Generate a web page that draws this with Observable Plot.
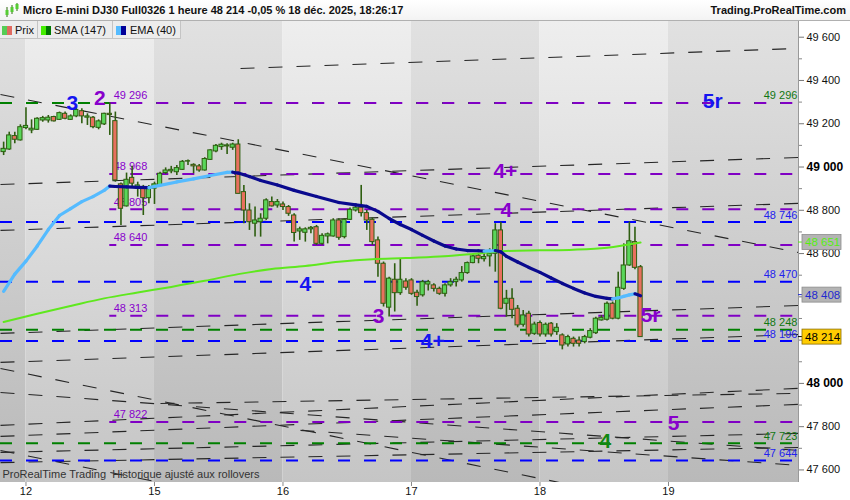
<!DOCTYPE html>
<html><head><meta charset="utf-8">
<script src="https://cdn.jsdelivr.net/npm/d3@7"></script>
<script src="https://cdn.jsdelivr.net/npm/@observablehq/plot@0.6"></script>
<style>
body{margin:0;background:#fff;font-family:"Liberation Sans",Arial,sans-serif;}
#wrap{position:relative;width:850px;height:500px;overflow:hidden;}
#hdr{height:21px;background:linear-gradient(#ffffff,#f3f3f3);border-bottom:1px solid #b0b0b0;box-sizing:border-box;position:relative;font-size:11px;font-weight:bold;color:#111;}
#hdr .t{position:absolute;left:23px;top:4px;white-space:nowrap;}
#hdr .r{position:absolute;right:4px;top:4px;white-space:nowrap;}
#hdr svg{position:absolute;left:4px;top:3px;}
#leg{position:absolute;top:21px;left:0;height:18px;font-size:11px;color:#111;}
#leg .b{position:absolute;top:0;height:18px;box-sizing:border-box;background:#ececec;border-right:1px solid #c4c4c4;border-bottom:1px solid #c4c4c4;}
#leg .sw{position:absolute;top:5px;width:5px;height:9px;}
#leg .tx{position:absolute;top:3px;white-space:nowrap;}
</style>
</head><body>
<div id="wrap">
<div id="hdr">
<svg width="15" height="15" viewBox="0 0 15 15"><line x1="3" y1="4" x2="3" y2="14" stroke="#2a6a0a"/><rect x="1.5" y="7" width="3" height="5" fill="#55cc33"/><line x1="8" y1="2" x2="8" y2="11" stroke="#2a6a0a"/><rect x="6.5" y="4" width="3" height="5" fill="#55cc33"/><line x1="13" y1="0" x2="13" y2="8" stroke="#2a6a0a"/><rect x="11.5" y="1" width="3" height="5" fill="#55cc33"/></svg>
<span class="t">Micro E-mini DJ30 Full0326 1 heure 48 214 -0,05 % 18 déc. 2025, 18:26:17</span>
<span class="r">Trading.ProRealTime.com</span>
</div>
<div id="chart"></div>
<div id="leg">
 <div class="b" style="left:0;width:38px"><div class="sw" style="left:2px;background:#55cc55"></div><div class="sw" style="left:7px;background:#e06a60"></div><div class="tx" style="left:15px">Prix</div></div>
 <div class="b" style="left:38px;width:75px"><div class="sw" style="left:3px;background:#44ee00"></div><div class="sw" style="left:8px;background:#007700"></div><div class="tx" style="left:16px">SMA (147)</div></div>
 <div class="b" style="left:113px;width:68px"><div class="sw" style="left:3px;background:#55bbff"></div><div class="sw" style="left:8px;background:#000099"></div><div class="tx" style="left:17px">EMA (40)</div></div>
</div>
</div>
<script>
// ---------- data ----------
const barStart = -4; // bar index of first candle (day ticks at multiples of 23 bars)
const opens = [49069,49081,49143,49123,49180,49169,49172,49215,49215,49231,49218,49246,49218,49234,49258,49228,49228,49181,49197,49246,
49212,48920,48818,48950,48900,48903,48856,48900,48915,48972,48980,48976,48987,49025,49010,49003,48984,49033,49072,49092,
49095,49089,49104,48884,48799,48738,48745,48761,48838,48822,48827,48815,48776,48702,48696,48712,48722,48645,48679,48679,
48753,48676,48756,48799,48812,48787,48756,48661,48553,48350,48479,48417,48471,48476,48419,48407,48457,48453,48437,48414,
48453,48468,48476,48510,48556,48590,48574,48587,48599,48707,48368,48391,48345,48271,48322,48229,48279,48226,48276,48237,
48222,48180,48206,48198,48191,48211,48232,48291,48294,48368,48299,48437,48545,48653,48537];
const highs = [49115,49161,49161,49195,49274,49218,49228,49234,49238,49235,49254,49254,49241,49269,49269,49246,49234,49218,49249,49296,
49254,48926,48972,49003,48930,48915,48915,48930,48976,48996,49003,49007,49030,49033,49015,49012,49043,49080,49104,49110,
49107,49110,49126,48915,48830,48815,48784,48853,48861,48850,48838,48822,48784,48722,48719,48725,48730,48692,48695,48761,
48761,48761,48811,48822,48915,48799,48765,48676,48561,48491,48553,48576,48484,48484,48430,48476,48476,48461,48445,48461,
48484,48491,48540,48561,48596,48596,48599,48622,48738,48745,48430,48437,48360,48337,48334,48283,48288,48279,48282,48276,
48229,48222,48214,48214,48222,48253,48306,48314,48376,48376,48514,48645,48746,48722,48545];
const lows = [49053,49077,49107,49120,49172,49154,49169,49207,49203,49208,49215,49218,49215,49228,49200,49192,49177,49172,49192,49146,
48930,48730,48815,48907,48861,48776,48830,48827,48907,48966,48969,48961,48984,49007,48969,48976,48981,49030,49066,49077,
49058,49077,48876,48738,48707,48676,48676,48753,48815,48810,48799,48772,48653,48661,48653,48692,48638,48638,48645,48676,
48661,48668,48753,48792,48769,48707,48638,48491,48353,48307,48330,48407,48430,48407,48356,48399,48427,48422,48407,48399,
48445,48445,48468,48504,48553,48553,48561,48538,48514,48340,48306,48299,48257,48260,48214,48222,48214,48214,48214,48222,
48155,48168,48168,48168,48183,48206,48226,48288,48288,48294,48294,48430,48541,48525,48214];
const closes = [49084,49146,49126,49184,49190,49177,49223,49226,49228,49211,49249,49223,49234,49264,49234,49234,49184,49211,49246,49240,
48938,48807,48941,48923,48915,48856,48904,48920,48969,48984,48987,48995,49024,49027,49003,48984,49037,49077,49098,49103,
49100,49104,48876,48799,48745,48753,48761,48846,48818,48838,48815,48784,48695,48712,48712,48719,48645,48682,48689,48753,
48673,48756,48802,48812,48787,48753,48653,48553,48368,48484,48417,48479,48442,48414,48399,48468,48468,48437,48414,48453,
48468,48479,48510,48556,48587,48576,48584,48599,48707,48345,48391,48340,48268,48314,48226,48272,48226,48271,48226,48257,
48175,48214,48183,48183,48214,48242,48299,48303,48368,48299,48442,48545,48657,48534,48214];

const smaIdx = [-4,2,8,14,20,26,32,38,44,50,56,62,68,74,80,86,92,98,104,110];
const smaVal = [48284,48322,48358,48393,48420,48446,48474,48505,48529,48543,48562,48574,48579,48586,48598,48612,48615,48618,48627,48651];

const emaIdx = [-4,-2,0,2,4,6,8,10,12,14,15,16,18,20,22,24,27,30,33,36,37,38,40,42,45,48,52,56,59,61,63,65,67,69,71,73,75,77,79,81,82,83,84,85,86,88,90,92,94,96,98,100,102,104,105,106,107,108,109,110];
const emaVal = [48425,48505,48565,48634,48711,48776,48808,48840,48863,48892,48912,48910,48908,48906,48905,48915,48931,48945,48961,48975,48976,48972,48956,48938,48917,48892,48864,48836,48825,48818,48795,48762,48734,48711,48684,48658,48635,48621,48614,48613,48611,48612,48614,48608,48587,48561,48536,48513,48487,48462,48439,48418,48402,48393,48391,48395,48402,48409,48414,48405];

const purpleLevels = [49296,48968,48805,48640,48313,47822];
const purpleStart = 15;
const blueLevels = [48746,48470,48196,47644];
const greenLevels = [49296,48248,47723];
const rightLabelLevels = [49296,48746,48470,48248,48196,47723,47644];
const rightLabelColors = ["#117711","#2222ee","#2222ee","#117711","#2222ee","#117711","#2222ee"];

const trendX1 = [38.4,-4.56,-4.56,-4.56,-4.56,-4.56,-4.56,-4.56,24.07,-4.56,-4.56,-4.56,-4.56,-4.56,49.13];
const trendY1 = [49455,49335,48919,48707,48231,48097,48069,47958,47907,47806,47755,47681,47634,47690,47783];
const trendX2 = [138.27,138.27,138.27,138.27,138.27,138.27,95.48,138.27,138.27,138.27,138.27,138.27,138.27,24.07,138.27];
const trendY2 = [49548,48605,49044,48832,48360,48226,47542,47690,47954,47977,47903,47769,47704,47542,47621];

const annText = ["3","2","4+","4","5r","4","3","4+","5r","5","4"];
const annIdx = [8.3,13.2,85.8,86,122.9,50,63.1,72.8,111.8,115.9,103.7];
const annVal = [49294,49317,48979,48798,49303,48457,48309,48194,48314,47814,47732];
const annColor = ["#1515f0","#8800cc","#8800cc","#8800cc","#1515f0","#1515f0","#8800cc","#1515f0","#8800cc","#8800cc","#118811"];

const dayTicks = [0,23,46,69,92,115];
const dayLabels = ["12","15","16","17","18","19"];
const dayEdges = [-4.56,0,23,46,69,92,115,138.27];
const dayDark = [true,false,true,false,true,false,true];

const yMajor = [49600,49400,49200,48800,48600,47800,47600];
const yHidden = [48400,48200];   // labels covered by the price badges
const yBold = [49000,48000];
const yMinor = [49500,49300,49100,48900,48700,48500,48300,48100,47900,47700];

const badgeVals = [48651,48408,48214];
const badgeBg = ["#b4b4b4","#b4b4b4","#ffcc00"];
const badgeFg = ["#55ee11","#1e2ad0","#000000"];

const xDomain = [-4.56,138.27];
const yDomain = [47542,49672.5];

// ---------- derived tables ----------
const candles = opens.map((o,k)=>({i: barStart+k, o, h: highs[k], l: lows[k], c: closes[k]}));
const sma = smaIdx.map((i,k)=>({i, v: smaVal[k]}));
const emaSegs = emaIdx.slice(1).map((i,k)=>({x1: emaIdx[k], y1: emaVal[k], x2: i, y2: emaVal[k+1], col: emaVal[k+1] >= emaVal[k] ? "#55bbff" : "#0a0a8e"}));
const trends = trendX1.map((x,k)=>({x1:x, y1:trendY1[k], x2:trendX2[k], y2:trendY2[k]}));
const bands = dayDark.map((d,k)=>({x1: dayEdges[k], x2: dayEdges[k+1], dark: d}));
const ann = annText.map((t,k)=>({t, i: annIdx[k], v: annVal[k], c: annColor[k]}));
const rightLabs = rightLabelLevels.map((v,k)=>({v, c: rightLabelColors[k]}));
const fmt = d => d3.format(",")(d).replace(",", " ");
const labelMap = new Map(dayTicks.map((d,k)=>[d, dayLabels[k]]));

const GREEN = "#5ad65a", RED = "#e8705e", WICK = "#2e5e10";

const chart = Plot.plot({
  width: 850, height: 479,
  marginTop: 0, marginBottom: 18, marginLeft: 0, marginRight: 52,
  x: {domain: xDomain},
  y: {domain: yDomain},
  color: {type: "identity"},
  style: {background: "white", fontFamily: "'Liberation Sans', Arial, sans-serif", overflow: "visible"},
  marks: [
    Plot.rect(bands.filter(d=>d.dark), {x1:"x1", x2:"x2", y1: ()=>yDomain[0], y2: ()=>yDomain[1], fill: "url(#gDark)"}),
    Plot.rect(bands.filter(d=>!d.dark), {x1:"x1", x2:"x2", y1: ()=>yDomain[0], y2: ()=>yDomain[1], fill: "url(#gLight)"}),
    Plot.link(trends, {x1:"x1", y1:"y1", x2:"x2", y2:"y2", stroke:"#262626", strokeWidth:1.1, strokeDasharray:"14,14", clip:"frame"}),
    Plot.ruleY(greenLevels, {stroke:"#008000", strokeWidth:2, strokeDasharray:"12,14"}),
    Plot.ruleY(blueLevels, {stroke:"#0000ff", strokeWidth:2, strokeDasharray:"12,14"}),
    Plot.ruleY(purpleLevels, {x1: ()=>purpleStart, x2: ()=>xDomain[1], stroke:"#8000c4", strokeWidth:2, strokeDasharray:"12,14", strokeDashoffset: 5}),
    Plot.text(purpleLevels, {x: ()=>purpleStart + 0.7, y: d=>d, text: fmt, textAnchor:"start", dy:-7, fill:"#8800cc", fontSize:11}),
    Plot.text(rightLabs, {x: ()=>xDomain[1] - 0.2, y:"v", text: d=>fmt(d.v), textAnchor:"end", dy:-7, fill:"c", fontSize:11}),
    Plot.ruleX(candles, {x:"i", y1:"l", y2:"h", stroke: WICK, strokeWidth:1.6}),
    Plot.rect(candles, {x1: d=>d.i-0.38, x2: d=>d.i+0.38, y1:"o", y2:"c", fill: d=> d.c>=d.o ? GREEN : RED, stroke: WICK, strokeWidth:1}),
    Plot.line(sma, {x:"i", y:"v", stroke:"#5fe81e", strokeWidth:2, curve:"monotone-x"}),
    Plot.link(emaSegs, {x1:"x1", y1:"y1", x2:"x2", y2:"y2", stroke:"col", strokeWidth:3.2, strokeLinecap:"round"}),
    Plot.text(ann, {x:"i", y:"v", text:"t", fill:"c", fontSize:21, fontWeight:"bold"}),
    Plot.text(["ProRealTime Trading  Historique ajusté aux rollovers"], {frameAnchor:"bottom-left", dx:2, dy:-5, fill:"#333", fontSize:11}),
    Plot.ruleX([xDomain[1]], {stroke:"#999"}),
    Plot.axisX({ticks: dayTicks, tickFormat: d=>labelMap.get(d), tickSize:4, tickPadding:1, fontSize:11, fill:"#111", stroke:"#888"}),
    Plot.axisY({anchor:"right", ticks: yMajor, tickFormat: fmt, tickSize:5, tickPadding:3, fontSize:11, fill:"#111", stroke:"#777"}),
    Plot.axisY({anchor:"right", ticks: yBold, tickFormat: fmt, tickSize:5, tickPadding:3, fontSize:12, fontWeight:"bold", fill:"#000", stroke:"#777"}),
    Plot.axisY({anchor:"right", ticks: yHidden, tickFormat: ()=>"", tickSize:5, stroke:"#777"}),
    Plot.axisY({anchor:"right", ticks: yMinor, tickFormat: ()=>"", tickSize:3, stroke:"#888"})
  ]
});

// gradients for day bands
const defs = document.createElementNS("http://www.w3.org/2000/svg","defs");
defs.innerHTML = '<linearGradient id="gLight" x1="0" y1="0" x2="0" y2="1"><stop offset="0" stop-color="#eeeeee"/><stop offset="1" stop-color="#c5c5c5"/></linearGradient>' +
  '<linearGradient id="gDark" x1="0" y1="0" x2="0" y2="1"><stop offset="0" stop-color="#e1e1e1"/><stop offset="1" stop-color="#b9b9b9"/></linearGradient>';
chart.insertBefore(defs, chart.firstChild);

// price badges on the right axis, positioned with the chart's y scale
const ys = chart.scale("y");
const xs = chart.scale("x");
const xr = xs.apply(xDomain[1]);
const g = d3.select(chart).append("g").attr("text-anchor", "start");
badgeVals.forEach((v,k)=>{
  const y = ys.apply(v);
  g.append("line").attr("x1", xr).attr("x2", xr+5).attr("y1", y).attr("y2", y).attr("stroke", k === 2 ? "#000" : badgeFg[k]);
  g.append("rect").attr("x", xr+4).attr("y", y-7.5).attr("width", 39).attr("height", 15)
    .attr("fill", badgeBg[k]).attr("stroke", k===2 ? "#8a6d00" : "#8c8c8c").attr("stroke-width", 0.8);
  g.append("text").attr("x", xr+7).attr("y", y+4).attr("font-size", 11.5).attr("text-anchor", "start")
    .attr("font-family", "'Liberation Sans', Arial, sans-serif").attr("fill", badgeFg[k]).text(fmt(v));
});

document.getElementById("chart").appendChild(chart);
</script>
</body></html>
